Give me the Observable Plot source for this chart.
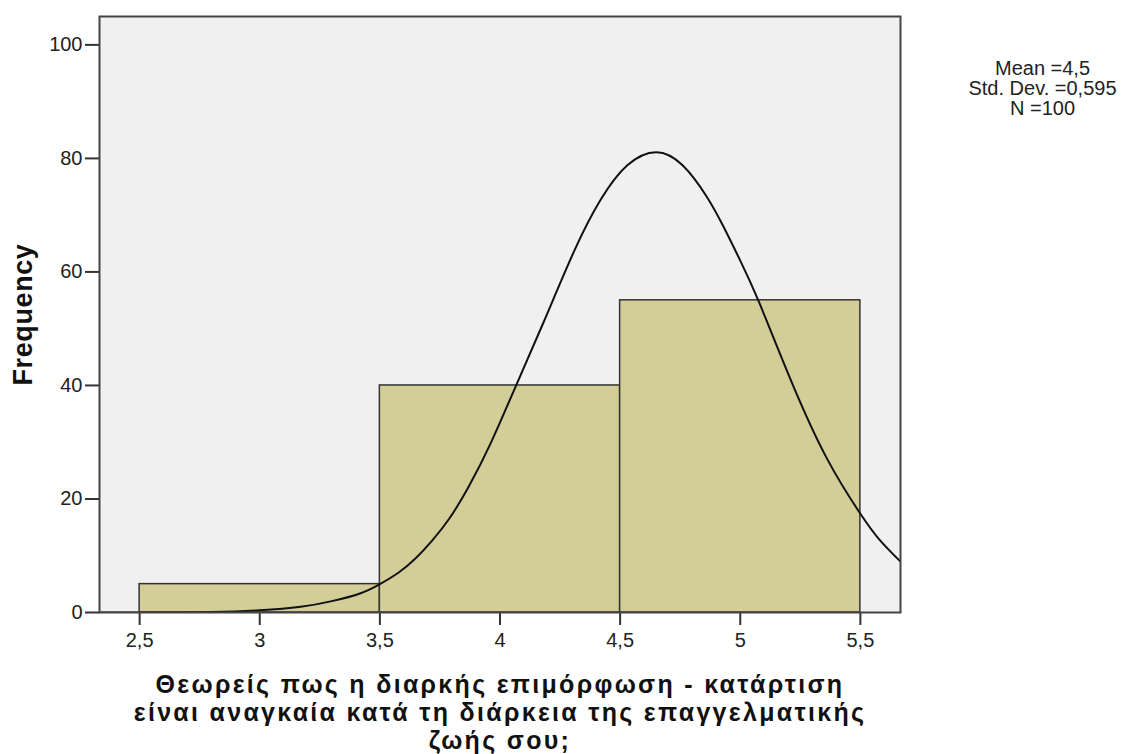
<!DOCTYPE html>
<html>
<head>
<meta charset="utf-8">
<script src="https://cdn.jsdelivr.net/npm/d3@7"></script>
<script src="https://cdn.jsdelivr.net/npm/@observablehq/plot@0.6"></script>
<style>
  body { margin: 0; background: #ffffff; }
  #chart svg { display: block; }
  g[aria-label="x-axis tick"], g[aria-label="y-axis tick"] { stroke: #333; stroke-width: 2px; }
</style>
</head>
<body>
<div id="chart"></div>
<script>
// Histogram bins
const binStart = [2.5, 3.5, 4.5];
const binEnd   = [3.5, 4.5, 5.5];
const counts   = [5, 40, 55];

// Normal curve, points
const curveX = [2.34, 2.6, 2.8, 3.0, 3.17, 3.3, 3.42, 3.5, 3.58, 3.65, 3.72, 3.79, 3.87, 3.96, 4.06, 4.18, 4.31, 4.42, 4.53, 4.65, 4.76, 4.86, 4.93, 5.0, 5.08, 5.21, 5.36, 5.5, 5.58, 5.666];
const curveY = [0.0, 0.02, 0.1, 0.4, 1.0, 2.0, 3.4, 5.0, 7.1, 9.6, 12.8, 16.6, 22.2, 29.7, 39.3, 51.0, 63.8, 72.8, 78.8, 81.1, 78.8, 73.3, 68.0, 62.0, 54.5, 41.0, 27.2, 17.4, 12.8, 9.0];

// Ticks and texts
const xTicks = [2.5, 3, 3.5, 4, 4.5, 5, 5.5];
const yTicks = [0, 20, 40, 60, 80, 100];
const yTitle = "Frequency";
const xTitle = "Θεωρείς πως η διαρκής επιμόρφωση - κατάρτιση\nείναι αναγκαία κατά τη διάρκεια της επαγγελματικής\nζωής σου;";
const statsText = "Mean =4,5\nStd. Dev. =0,595\nN =100";

const bins = binStart.map((b, i) => ({x1: b, x2: binEnd[i], count: counts[i]}));
const curve = curveX.map((x, i) => ({x, y: curveY[i]}));

const chart = Plot.plot({
  width: 1125,
  height: 754,
  marginLeft: 99,
  marginRight: 225,
  marginTop: 16,
  marginBottom: 142,
  style: {fontFamily: "'Liberation Sans', Arial, sans-serif", fontSize: "20px", color: "#222", background: "#ffffff"},
  x: {domain: [2.333, 5.667], ticks: xTicks, tickFormat: d => String(d).replace(".", ","), tickSize: 13, tickPadding: 7, label: null},
  y: {domain: [0, 105], ticks: yTicks, tickSize: 14, tickPadding: 3, label: null},
  marks: [
    Plot.frame({fill: "#f0f0f0"}),
    Plot.rectY(bins, {x1: "x1", x2: "x2", y: "count", fill: "#d3ce97", stroke: "#333", strokeWidth: 1.5}),
    Plot.line(curve, {x: "x", y: "y", curve: "natural", stroke: "#111", strokeWidth: 2, clip: true}),
    Plot.frame({stroke: "#444", strokeWidth: 2}),
    Plot.text([yTitle], {frameAnchor: "left", dx: -76, rotate: -90, textAnchor: "middle", fontSize: 27, fontWeight: "bold", fill: "#111"}),
    Plot.text([xTitle], {frameAnchor: "bottom", dy: 61, lineAnchor: "top", textAnchor: "middle", lineHeight: 1.12, fontSize: 25, fontWeight: "bold", fill: "#111"}),
    Plot.text([statsText], {frameAnchor: "top-right", dx: 142, dy: 44, lineAnchor: "top", textAnchor: "middle", lineHeight: 1.0, fontSize: 20, fill: "#222"})
  ]
});

// widen the bold titles slightly, like the reference's spacing
d3.select(chart).selectAll("text").each(function() {
  const t = this.textContent;
  if (t.startsWith("Θεωρείς")) this.setAttribute("letter-spacing", "2.3");
  else if (t === yTitle) this.setAttribute("letter-spacing", "0.6");
});
document.getElementById("chart").appendChild(chart);
</script>
</body>
</html>
